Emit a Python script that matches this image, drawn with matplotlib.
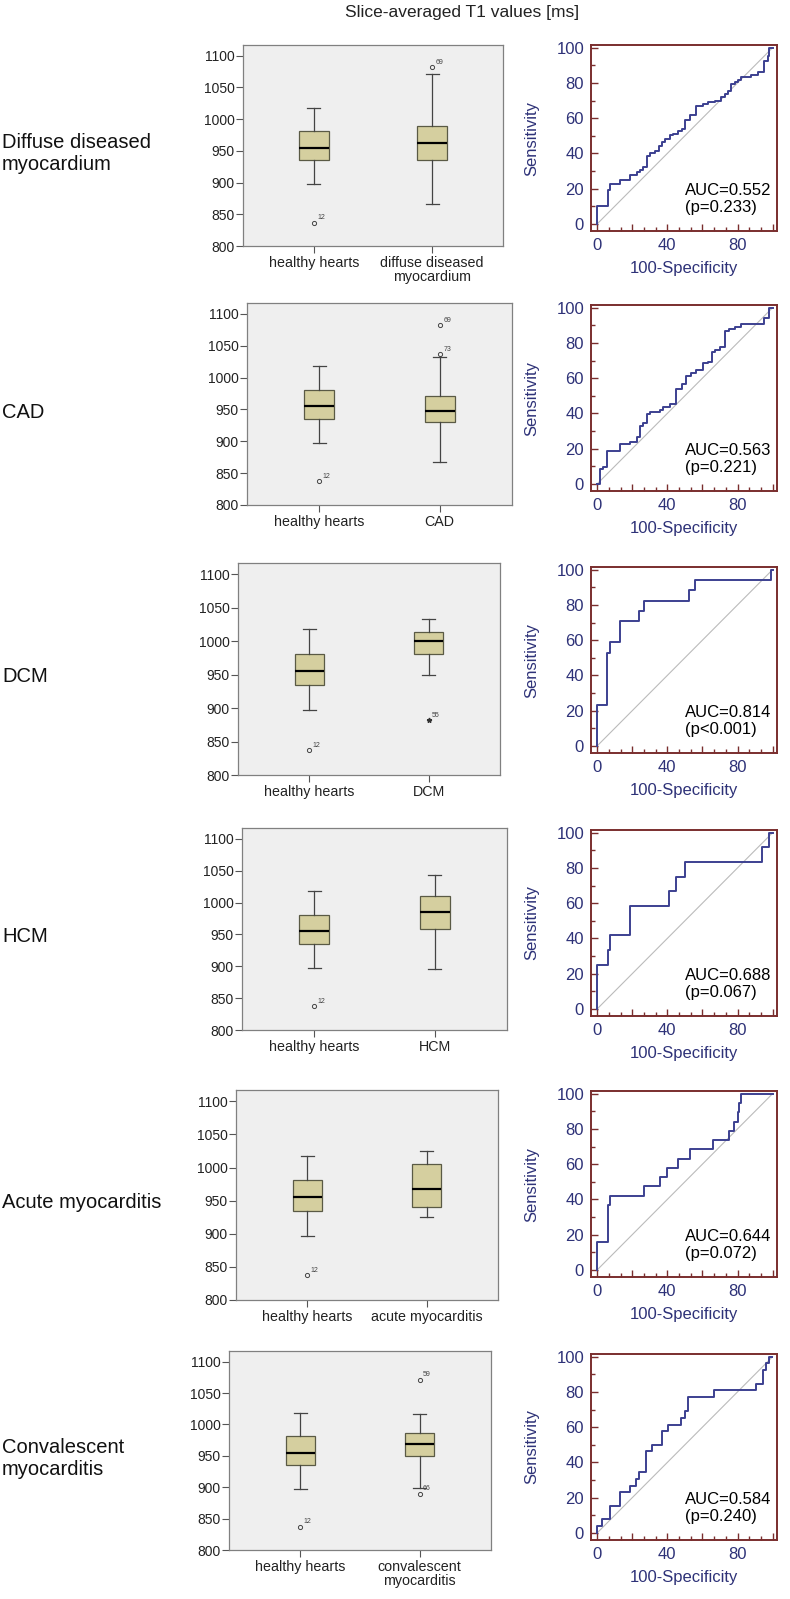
import matplotlib
matplotlib.use("Agg")
import matplotlib.pyplot as plt
from matplotlib.ticker import MultipleLocator

plt.rcParams["font.family"] = ["Liberation Sans", "DejaVu Sans"]

# ---- data ----
row_labels = ["Diffuse diseased\nmyocardium", "CAD", "DCM", "HCM",
              "Acute myocarditis", "Convalescent\nmyocarditis"]
group_labels = ["diffuse diseased\nmyocardium", "CAD", "DCM", "HCM",
                "acute myocarditis", "convalescent\nmyocarditis"]

# healthy hearts (same reference group in every row)
healthy_stats = {"q1": 935, "med": 955, "q3": 981, "lo": 897, "hi": 1018}
healthy_outliers = [837]
healthy_outlier_ids = ["12"]

group_q1 = [935, 930, 981, 958, 940, 950]
group_med = [962, 947, 1001, 985, 968, 969]
group_q3 = [990, 971, 1014, 1010, 1006, 987]
group_lo = [867, 867, 949, 896, 925, 899]
group_hi = [1072, 1033, 1034, 1043, 1025, 1017]
group_outliers = [[1082], [1082, 1037], [882], [], [], [1071, 890]]
group_outlier_ids = [["69"], ["69", "73"], ["55"], [], [], ["59", "66"]]
group_extreme = [False, False, True, False, False, False]

# ROC step vertices (100-specificity, sensitivity)
roc_x = [
    [0, 0, 6, 7.4, 13, 18.7, 22.5, 24.4, 26.3, 28.2, 30, 32.9, 35.2, 36.7, 38.6,
     41.4, 43.3, 46.1, 48.4, 49.9, 52.7, 56.5, 60.3, 63.1, 66.9, 70.7, 72.6, 74.5,
     76.4, 78.3, 80.2, 82, 87.7, 91.5, 95.3, 97.2, 98.1, 100],
    [0, 1.7, 3.6, 5.5, 13, 18.7, 22.5, 24.4, 26.3, 28.2, 30, 35.7, 37.6, 41.4, 44.8,
     48.4, 50.9, 53.7, 56.5, 60.3, 63.1, 65.4, 67.3, 69.8, 72.6, 74.9, 78.3, 82, 95,
     98, 100],
    [0, 0, 5.7, 7.6, 13.2, 23.8, 26.5, 52.6, 56, 98.9, 100],
    [0, 0, 6, 7.4, 18.7, 41, 45, 50, 94, 98, 100],
    [0, 0, 6, 7.4, 26.8, 35.7, 40, 46, 53, 66, 75, 78, 80, 81, 82, 100],
    [0, 0, 3, 7.4, 13, 18.7, 21.9, 23.8, 27.6, 31.4, 37, 40.5, 48, 49.9, 51.8, 66.5,
     90.5, 94.3, 96.2, 97.7, 99.6],
]
roc_y = [
    [0, 10.4, 19.2, 22.6, 25.2, 27.9, 29.2, 30.5, 32.4, 38.6, 40, 41.4, 44, 46.5, 48,
     50.7, 51.2, 52.5, 54, 58.8, 61.6, 66.7, 67.8, 69.1, 70, 71.9, 73.8, 75.3, 79.1,
     80.4, 81.7, 83.2, 84.7, 86, 92.7, 95.5, 100, 100],
    [0, 8.6, 9.6, 18.8, 22.7, 23.6, 26.5, 32.8, 34.3, 39.6, 40.9, 42.2, 43.7, 45.6, 54,
     56.8, 61.5, 62.9, 64.4, 68.5, 69.4, 74.7, 76.2, 77.5, 86.5, 87.8, 89.1, 90.6, 94,
     100, 100],
    [0, 23.5, 52.9, 58.8, 70.6, 76.5, 82.4, 88.2, 94.1, 100, 100],
    [0, 25, 33.3, 41.7, 58.3, 66.7, 75, 83.3, 91.7, 100, 100],
    [0, 15.8, 36.8, 42.1, 47.4, 52.6, 57.9, 63.2, 68.4, 73.7, 78.9, 84.2, 89.5, 94.7,
     100, 100],
    [0, 3.85, 7.7, 15.4, 23.1, 26.9, 30.8, 34.6, 46.2, 50, 57.7, 61.5, 65.4, 69.2,
     76.9, 80.8, 84.6, 92.3, 96.2, 100, 100],
]
auc_values = ["0.552", "0.563", "0.814", "0.688", "0.644", "0.584"]
p_values = ["p=0.233", "p=0.221", "p<0.001", "p=0.067", "p=0.072", "p=0.240"]

# ---- layout (pixel boxes: left, top, right, bottom) ----
W, H = 790, 1599
box_panels = [(243, 45, 503, 246), (247, 303, 512, 505), (238, 563, 500, 775),
              (242, 828, 507, 1030), (236, 1090, 498, 1300), (229, 1351, 491, 1550)]
roc_panels = [(591, 45, 777, 231), (591, 305, 777, 491), (591, 567, 777, 753),
              (591, 830, 777, 1016), (591, 1091, 777, 1277), (591, 1354, 777, 1540)]

NAVY = "#2E3278"
ROC_LINE = "#3C4090"
FRAME = "#7A2E2E"
BOX_FILL = "#D5CF9F"
PANEL_BG = "#EFEFEF"


def px_axes(fig, box):
    left, top, right, bottom = box
    return fig.add_axes([left / W, 1 - bottom / H, (right - left) / W, (bottom - top) / H])


def draw_box_panel(ax, i):
    stats = [
        {"q1": healthy_stats["q1"], "med": healthy_stats["med"], "q3": healthy_stats["q3"],
         "whislo": healthy_stats["lo"], "whishi": healthy_stats["hi"], "fliers": []},
        {"q1": group_q1[i], "med": group_med[i], "q3": group_q3[i],
         "whislo": group_lo[i], "whishi": group_hi[i], "fliers": []},
    ]
    ax.bxp(stats, positions=[1, 2], widths=0.25, capwidths=0.11, patch_artist=True,
           showfliers=False,
           boxprops=dict(facecolor=BOX_FILL, edgecolor="#5A5A45", linewidth=0.9),
           medianprops=dict(color="black", linewidth=1.6),
           whiskerprops=dict(color="#444444", linewidth=0.9),
           capprops=dict(color="#444444", linewidth=0.9))
    ax.set_xlim(0.4, 2.6)
    ax.set_ylim(800, 1117)
    ax.set_facecolor(PANEL_BG)

    outlier_sets = [(1, healthy_outliers, healthy_outlier_ids, False),
                    (2, group_outliers[i], group_outlier_ids[i], group_extreme[i])]
    for pos, vals, ids, extreme in outlier_sets:
        for v, label in zip(vals, ids):
            if extreme:
                ax.plot(pos, v, marker="*", ms=3.5, color="#333333", mec="#333333")
            else:
                ax.plot(pos, v, marker="o", ms=3, mfc="none", mec="#444444", mew=0.7)
            ax.annotate(label, (pos, v), xytext=(2.5, 2.5), textcoords="offset points",
                        fontsize=5, color="#444444")

    ax.set_yticks([800, 850, 900, 950, 1000, 1050, 1100])
    ax.set_xticks([1, 2])
    ax.set_xticklabels(["healthy hearts", group_labels[i]], fontsize=10.3,
                       color="#222222", linespacing=1.0)
    ax.tick_params(axis="y", labelsize=10, labelcolor="#222222", color="#555555",
                   length=5, width=0.8, direction="out", pad=1)
    ax.tick_params(axis="x", color="#555555", length=5, width=0.8, direction="out", pad=2)
    for sp in ax.spines.values():
        sp.set_color("#808080")
        sp.set_linewidth(0.9)


def draw_roc_panel(ax, i):
    ax.plot([0, 100], [0, 100], color="#BBBBBB", linewidth=0.8)
    ax.plot(roc_x[i], roc_y[i], drawstyle="steps-post", color=ROC_LINE, linewidth=1.4)
    ax.set_xlim(-3.5, 102.5)
    ax.set_ylim(-4, 101.5)
    ax.xaxis.set_major_locator(MultipleLocator(20))
    ax.xaxis.set_minor_locator(MultipleLocator(20 / 3))
    ax.yaxis.set_major_locator(MultipleLocator(20))
    ax.yaxis.set_minor_locator(MultipleLocator(10))
    ax.set_xticks([0, 20, 40, 60, 80, 100])
    ax.set_xticklabels(["0", "", "40", "", "80", ""])
    ax.tick_params(which="major", direction="in", length=5, width=1.0, color=FRAME,
                   labelsize=12, labelcolor=NAVY, pad=5)
    ax.tick_params(which="minor", direction="in", length=3, width=1.0, color=FRAME)
    for sp in ax.spines.values():
        sp.set_color(FRAME)
        sp.set_linewidth(1.4)
    ax.set_xlabel("100-Specificity", color=NAVY, fontsize=12, labelpad=6)
    ax.set_ylabel("Sensitivity", color=NAVY, fontsize=12, labelpad=12)
    ax.text(50, 14, f"AUC={auc_values[i]}\n({p_values[i]})", fontsize=12,
            color="black", ha="left", va="center", linespacing=1.15)


fig = plt.figure(figsize=(W / 100, H / 100), dpi=100)

for i in range(6):
    draw_box_panel(px_axes(fig, box_panels[i]), i)
    draw_roc_panel(px_axes(fig, roc_panels[i]), i)
    top, bottom = box_panels[i][1], box_panels[i][3]
    fig.text(2 / W, 1 - ((top + bottom) / 2 + 8) / H, row_labels[i], fontsize=14.5,
             ha="left", va="center", color="#111111", linespacing=1.2)

fig.text(462 / W, 1 - 13 / H, "Slice-averaged T1 values [ms]", fontsize=12.5,
         ha="center", va="center", color="#222222")

fig.savefig("out.png", dpi=100, facecolor="white")
